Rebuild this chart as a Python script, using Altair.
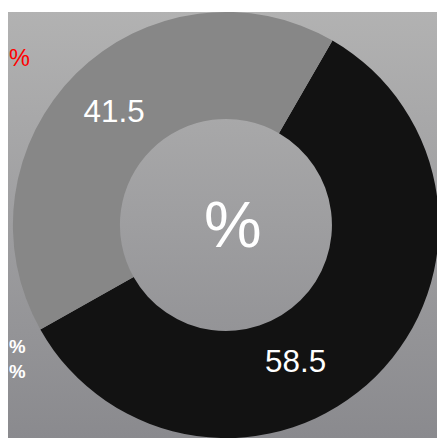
import math
import altair as alt
import pandas as pd

# ---- data ----
slice_names = ["dark", "light"]
slice_values = [58.5, 41.5]
slice_labels = ["58.5", "41.5"]
slice_colors = ["#121212", "#878787"]
slice_order = [0, 1]
center_text = ["%"]
red_text = ["%"]
white_texts = ["%", "%"]

W, H = 437, 434
CX, CY = 222, 217
R_OUT, R_IN = 217, 108
START = math.radians(30)
FONT = "Liberation Sans"

df = pd.DataFrame({"name": slice_names, "value": slice_values,
                   "label": slice_labels, "order": slice_order})

theta = alt.Theta("value:Q", stack=True,
                  scale=alt.Scale(range=[START, START + 2 * math.pi]))
color = alt.Color("name:N", scale=alt.Scale(domain=slice_names, range=slice_colors), legend=None)

bg = alt.Chart(pd.DataFrame({"a": [0]})).mark_rect(
    fill=alt.LinearGradient(
        gradient="linear",
        stops=[alt.GradientStop(color="#b2b2b2", offset=0),
               alt.GradientStop(color="#8a8a8e", offset=1)],
        x1=0, x2=0, y1=0, y2=1),
).encode(x=alt.value(0), x2=alt.value(W), y=alt.value(0), y2=alt.value(H))

arcs = alt.Chart(df).mark_arc(radius=R_OUT, innerRadius=R_IN).encode(
    theta=theta, color=color, order=alt.Order("order:Q"),
    x=alt.value(CX), y=alt.value(CY))

def slice_label(which, dx, dy):
    return alt.Chart(df).mark_text(
        radius=162, fontSize=32, font=FONT, color="white", dx=dx, dy=dy,
        baseline="middle", align="center",
    ).encode(
        theta=theta, order=alt.Order("order:Q"),
        text=alt.condition(alt.datum.name == which, "label:N", alt.value("")),
        x=alt.value(CX), y=alt.value(CY))

lab_light = slice_label("light", 0, 0)
lab_dark = slice_label("dark", -43, 25)

center = alt.Chart(pd.DataFrame({"t": center_text})).mark_text(
    fontSize=66, font=FONT, color="white", baseline="middle", align="center", dx=7, dy=2
).encode(text="t:N", x=alt.value(CX), y=alt.value(CY))

red = alt.Chart(pd.DataFrame({"t": red_text})).mark_text(
    fontSize=24, font=FONT, color="#ff0000", align="left", baseline="alphabetic"
).encode(text="t:N", x=alt.value(1), y=alt.value(55))

white1 = alt.Chart(pd.DataFrame({"t": white_texts[:1]})).mark_text(
    fontSize=19, font=FONT, fontWeight="bold", color="white", align="left", baseline="alphabetic"
).encode(text="t:N", x=alt.value(1), y=alt.value(347))

white2 = alt.Chart(pd.DataFrame({"t": white_texts[1:]})).mark_text(
    fontSize=19, font=FONT, fontWeight="bold", color="white", align="left", baseline="alphabetic"
).encode(text="t:N", x=alt.value(1), y=alt.value(373))

chart = alt.layer(bg, arcs, lab_light, lab_dark, center, red, white1, white2).properties(
    width=W, height=H, padding=0, autosize=alt.AutoSizeParams(type="none")
).configure_view(stroke=None)

chart.save("out.html", embed_options={"renderer": "svg", "actions": False})
